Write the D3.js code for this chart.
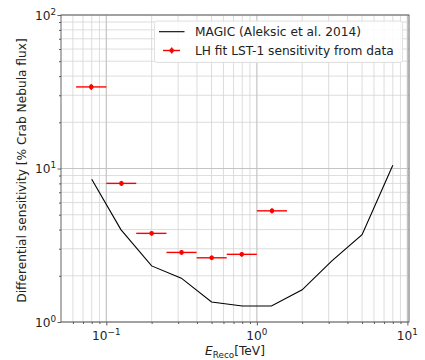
<!DOCTYPE html>
<html>
<head>
<meta charset="utf-8">
<script src="https://cdn.jsdelivr.net/npm/d3@7"></script>
<style>
  body { margin: 0; background: #fff; }
  text { font-family: "DejaVu Sans", sans-serif; }
</style>
</head>
<body>
<div id="chart"></div>
<script>
const width = 425
const height = 360
const margin = {top: 15, right: 16, bottom: 38, left: 61}
const fs = 12.2
const fsSup = 8.8

// MAGIC (Aleksic et al. 2014)
const magicE = [0.08, 0.125, 0.2, 0.315, 0.5, 0.8, 1.25, 2.0, 3.15, 5.0, 8.0]
const magicSens = [8.5, 4.0, 2.32, 1.93, 1.35, 1.27, 1.27, 1.62, 2.5, 3.7, 10.5]

// LH fit LST-1 sensitivity from data
const lstE = [0.0794, 0.126, 0.2, 0.316, 0.501, 0.794, 1.26]
const lstLow = [0.063, 0.1, 0.158, 0.251, 0.398, 0.631, 1.0]
const lstHigh = [0.1, 0.158, 0.251, 0.398, 0.631, 1.0, 1.585]
const lstSens = [34, 8.0, 3.78, 2.84, 2.62, 2.76, 5.3]
const lstErr = [1.5, 0.3, 0.12, 0.1, 0.09, 0.1, 0.2]

const svg = d3.select("#chart")
              .append("svg")
              .attr("width", width)
              .attr("height", height)

const x = d3.scaleLog()
            .domain([0.05, 10.25])
            .range([margin.left, width - margin.right])
const y = d3.scaleLog()
            .domain([1, 100])
            .range([height - margin.bottom, margin.top])

const x0 = margin.left, x1 = width - margin.right
const y0 = height - margin.bottom, y1 = margin.top

// grid, major + minor
const xMinor = [], yMinor = []
for (const d of [0.01, 0.1, 1]) for (let k = 2; k <= 9; k++) xMinor.push(d * k)
for (const d of [1, 10]) for (let k = 2; k <= 9; k++) yMinor.push(d * k)
const xTicks = [0.1, 1, 10]
const yTicks = [1, 10, 100]

const grid = svg.append("g")
grid.selectAll(".xmin")
    .data(xMinor.filter(v => x(v) > x0 && x(v) < x1))
    .enter().append("line")
    .attr("x1", d => x(d)).attr("x2", d => x(d))
    .attr("y1", y0).attr("y2", y1)
    .attr("stroke", "#d4d4d4").attr("stroke-width", 0.8)
grid.selectAll(".ymin")
    .data(yMinor)
    .enter().append("line")
    .attr("y1", d => y(d)).attr("y2", d => y(d))
    .attr("x1", x0).attr("x2", x1)
    .attr("stroke", "#d4d4d4").attr("stroke-width", 0.8)
grid.selectAll(".xmaj")
    .data(xTicks.filter(v => x(v) < x1))
    .enter().append("line")
    .attr("x1", d => x(d)).attr("x2", d => x(d))
    .attr("y1", y0).attr("y2", y1)
    .attr("stroke", "#c4c4c4").attr("stroke-width", 1.2)
grid.selectAll(".ymaj")
    .data(yTicks)
    .enter().append("line")
    .attr("y1", d => y(d)).attr("y2", d => y(d))
    .attr("x1", x0).attr("x2", x1)
    .attr("stroke", "#c4c4c4").attr("stroke-width", 1.2)

// MAGIC line
const line = d3.line().x((d, i) => x(magicE[i])).y(d => y(d))
svg.append("path")
   .datum(magicSens)
   .attr("d", line)
   .attr("fill", "none")
   .attr("stroke", "#000")
   .attr("stroke-width", 1.1)

// LST-1 points
const pts = svg.append("g").selectAll("g")
               .data(lstSens)
               .enter().append("g")
pts.append("line")
   .attr("x1", (d, i) => x(lstLow[i])).attr("x2", (d, i) => x(lstHigh[i]))
   .attr("y1", d => y(d)).attr("y2", d => y(d))
   .attr("stroke", "red").attr("stroke-width", 1.4)
pts.append("line")
   .attr("x1", (d, i) => x(lstE[i])).attr("x2", (d, i) => x(lstE[i]))
   .attr("y1", (d, i) => y(d - lstErr[i])).attr("y2", (d, i) => y(d + lstErr[i]))
   .attr("stroke", "red").attr("stroke-width", 1.4)
pts.append("circle")
   .attr("cx", (d, i) => x(lstE[i])).attr("cy", d => y(d))
   .attr("r", 2.3).attr("fill", "red")

// axes
const xAxis = d3.axisBottom(x).tickValues(xTicks.filter(v => x(v) <= x1 + 1)).tickFormat("").tickSize(3.5)
const xAxisMinor = d3.axisBottom(x).tickValues(xMinor.filter(v => x(v) > x0)).tickFormat("").tickSize(2)
const yAxis = d3.axisLeft(y).tickValues(yTicks).tickFormat("").tickSize(3.5)
const yAxisMinor = d3.axisLeft(y).tickValues(yMinor).tickFormat("").tickSize(2)

for (const ax of [xAxis, xAxisMinor]) {
  svg.append("g").attr("transform", `translate(0,${y0})`).call(ax)
     .call(g => g.select(".domain").remove())
     .selectAll("line").attr("stroke", "#333").attr("stroke-width", 0.8)
}
for (const ax of [yAxis, yAxisMinor]) {
  svg.append("g").attr("transform", `translate(${x0},0)`).call(ax)
     .call(g => g.select(".domain").remove())
     .selectAll("line").attr("stroke", "#333").attr("stroke-width", 0.8)
}

svg.append("rect")
   .attr("x", x0).attr("y", y1)
   .attr("width", x1 - x0).attr("height", y0 - y1)
   .attr("fill", "none").attr("stroke", "#555").attr("stroke-width", 0.9)

// tick labels as 10^n
svg.append("g").selectAll("text")
   .data([-1, 0, 1])
   .enter().append("text")
   .attr("x", d => x(Math.pow(10, d)))
   .attr("y", y0 + 17.5)
   .attr("text-anchor", "middle")
   .attr("font-size", fs)
   .attr("fill", "#222")
   .html(d => `10<tspan dy="-5" font-size="${fsSup}">${d < 0 ? "\u22121" : d}</tspan>`)

svg.append("g").selectAll("text")
   .data([0, 1, 2])
   .enter().append("text")
   .attr("x", x0 - 5)
   .attr("y", d => y(Math.pow(10, d)) + 4.5)
   .attr("text-anchor", "end")
   .attr("font-size", fs)
   .attr("fill", "#222")
   .html(d => `10<tspan dy="-5" font-size="${fsSup}">${d}</tspan>`)

// axis titles
svg.append("text")
   .attr("transform", `translate(26,${(y0 + y1) / 2 + 2}) rotate(-90)`)
   .attr("text-anchor", "middle")
   .attr("font-size", fs)
   .attr("fill", "#222")
   .text("Differential sensitivity [% Crab Nebula flux]")

svg.append("text")
   .attr("x", 235)
   .attr("y", 355)
   .attr("text-anchor", "middle")
   .attr("font-size", fs)
   .attr("fill", "#222")
   .html(`<tspan font-style="italic">E</tspan><tspan font-size="${fsSup}" dy="2.5">Reco</tspan><tspan dy="-2.5">[TeV]</tspan>`)

// legend
const legend = svg.append("g").attr("id", "legend")
legend.append("rect")
      .attr("x", 154.5).attr("y", 21)
      .attr("width", 248).attr("height", 41.5)
      .attr("rx", 2.5)
      .attr("fill", "#fff").attr("fill-opacity", 0.85)
      .attr("stroke", "#ddd").attr("stroke-width", 0.9)
legend.append("line")
      .attr("x1", 159).attr("x2", 184.5)
      .attr("y1", 31.7).attr("y2", 31.7)
      .attr("stroke", "#000").attr("stroke-width", 1.1)
legend.append("line")
      .attr("x1", 163).attr("x2", 180)
      .attr("y1", 50.5).attr("y2", 50.5)
      .attr("stroke", "red").attr("stroke-width", 1.4)
legend.append("line")
      .attr("x1", 171.7).attr("x2", 171.7)
      .attr("y1", 47.5).attr("y2", 53.5)
      .attr("stroke", "red").attr("stroke-width", 1.4)
legend.append("circle")
      .attr("cx", 171.7).attr("cy", 50.5).attr("r", 2.3).attr("fill", "red")
legend.selectAll(".lt")
      .data(["MAGIC (Aleksic et al. 2014)", "LH fit LST-1 sensitivity from data"])
      .enter().append("text")
      .attr("x", 195)
      .attr("y", (d, i) => 36 + i * 18.8)
      .attr("font-size", fs)
      .attr("fill", "#222")
      .text(d => d)
</script>
</body>
</html>
